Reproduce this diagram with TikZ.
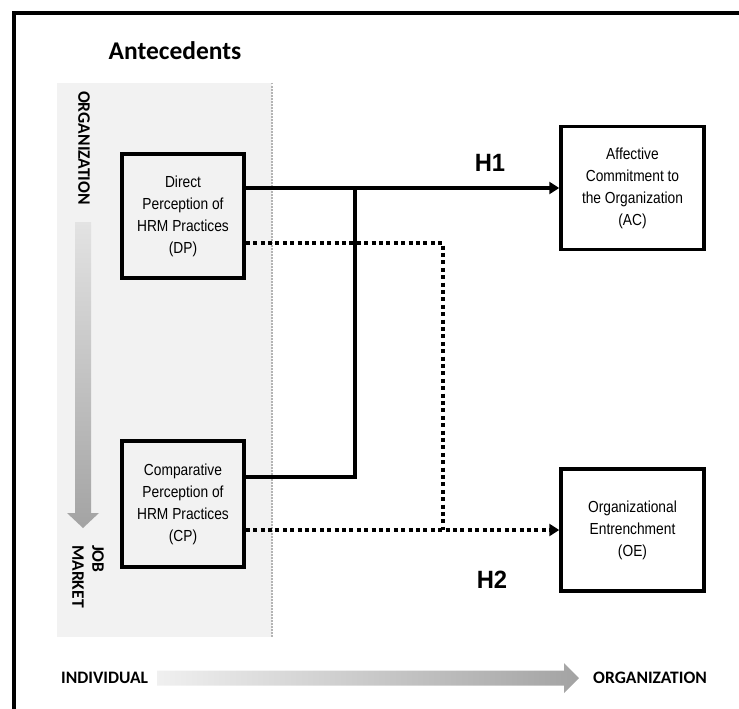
\documentclass[tikz,border=0pt]{standalone}
\usepackage{fontspec}
\setmainfont{Liberation Sans}
\newfontfamily\labelfont{Carlito}
\newfontfamily\boxfont[FakeStretch=0.86]{Liberation Sans}
\newfontfamily\hypfont[FakeStretch=0.95]{Liberation Sans}
\usetikzlibrary{arrows.meta}
\definecolor{panelgray}{HTML}{F2F2F2}
\definecolor{dotgray}{HTML}{B4B4B4}
\begin{document}
\begin{tikzpicture}[x=1pt, y=-1pt]
\tikzstyle{construct} = [draw, line width=3.5pt, align=center, inner sep=0pt,
    font=\boxfont\fontsize{16}{22}\selectfont]
\tikzstyle{sidelabel} = [inner sep=0pt, font=\labelfont\bfseries\fontsize{17.5}{20}\selectfont]
\tikzstyle{hyp} = [inner sep=0pt, font=\hypfont\bfseries\fontsize{25}{28}\selectfont]
\tikzstyle{effect} = [line width=3.5pt, -{Triangle[length=10pt,width=12pt]}]
\tikzstyle{link} = [line width=3.5pt]
\tikzstyle{weak} = [line width=4pt, dash pattern=on 4pt off 3.4pt]
\useasboundingbox (0,0) rectangle (739,709);

% frame and antecedents panel
\draw[line width=4pt] (14,709) -- (14,13) -- (739,13);
\fill[panelgray] (57,83) rectangle (272,637);
\draw[dotgray, line width=1.3pt, dash pattern=on 1.5pt off 1.5pt] (272,83) -- (272,637);
\node[inner sep=0pt, font=\labelfont\bfseries\fontsize{25.5}{28}\selectfont] (ante) at (175,51) {Antecedents};

% gradient arrows
\shade[top color=gray!22, bottom color=gray!72] (75,222) -- (91,222) -- (91,513) -- (99,513)
    -- (83,528) -- (67,513) -- (75,513) -- cycle;
\shade[left color=gray!12, right color=gray!72] (157,670.5) -- (564,670.5) -- (564,663)
    -- (579,678) -- (564,693) -- (564,685.5) -- (157,685.5) -- cycle;
\node[sidelabel, rotate=-90] (orgtop) at (84,148) {ORGANIZATION};
\node[sidelabel, rotate=-90, align=left, anchor=north west] (job) at (104,545) {JOB\\MARKET};
\node[sidelabel, anchor=west] (indiv) at (61,678) {INDIVIDUAL};
\node[sidelabel, anchor=west] (orgright) at (593,678) {ORGANIZATION};

% constructs
\node[construct, minimum width=122pt, minimum height=124pt] (DP) at (183,216)
    {Direct\\Perception of\\HRM Practices\\(DP)};
\node[construct, minimum width=122pt, minimum height=126pt] (CP) at (183,504)
    {Comparative\\Perception of\\HRM Practices\\(CP)};
\node[construct, minimum width=143pt, minimum height=123pt] (AC) at (632.5,188)
    {Affective\\Commitment to\\the Organization\\(AC)};
\node[construct, minimum width=143pt, minimum height=122pt] (OE) at (632.5,530)
    {Organizational\\Entrenchment\\(OE)};

% hypotheses
\coordinate (j1) at (355,188);
\coordinate (j2) at (443,530);
\draw[effect] ([yshift=28pt]DP.east) -- (AC.west);
\draw[link] ([yshift=27pt]CP.east) -| (j1);
\draw[weak] ([yshift=-27pt]DP.east) -| (j2);
\draw[weak, -{Triangle[length=10pt,width=12pt]}] ([yshift=-26pt]CP.east) -- (OE.west);
\node[hyp] (h1) at (490,163) {H1};
\node[hyp] (h2) at (492,580) {H2};
\end{tikzpicture}
\end{document}
